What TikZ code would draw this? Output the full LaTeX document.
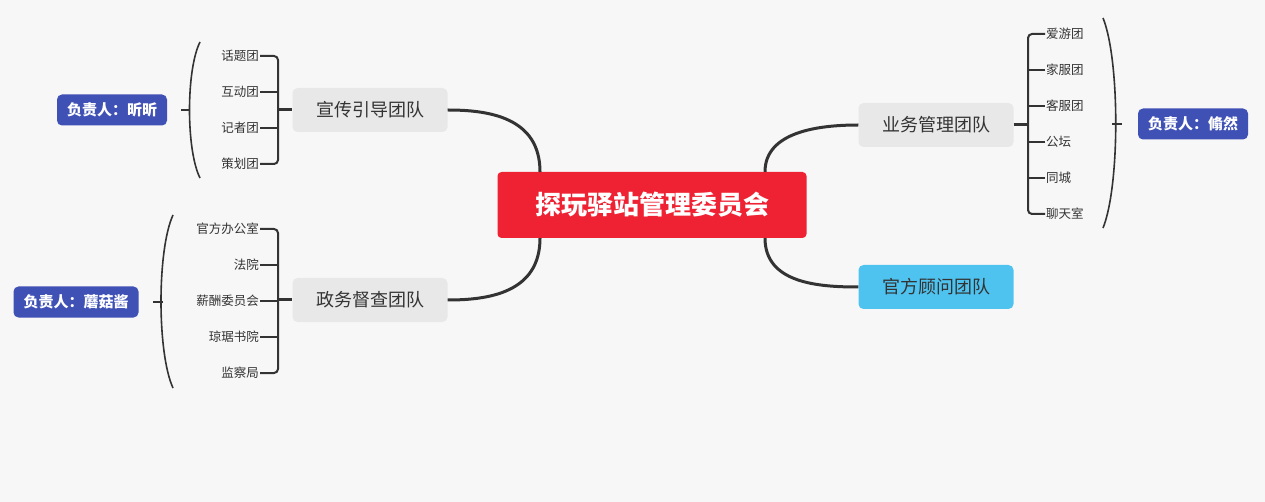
\documentclass[tikz,border=0pt]{standalone}
\usepackage{fontspec}
\setmainfont{Noto Sans CJK SC}
\definecolor{bgcol}{HTML}{F7F7F7}
\definecolor{rootred}{HTML}{EE2233}
\definecolor{teamgray}{HTML}{E8E8E8}
\definecolor{teamblue}{HTML}{4FC3F0}
\definecolor{leadblue}{HTML}{3F51B5}
\definecolor{linecol}{HTML}{333333}
\tikzset{
  root/.style={fill=rootred,rounded corners=4pt,text=white,font=\fontsize{26}{28}\selectfont\bfseries,minimum width=309pt,minimum height=66pt},
  team/.style={fill=teamgray,rounded corners=5pt,text=linecol,font=\fontsize{18}{20}\selectfont,minimum width=155pt,minimum height=44pt},
  leader/.style={fill=leadblue,rounded corners=5pt,text=white,font=\fontsize{15}{17}\selectfont\bfseries,minimum height=31pt,inner xsep=10pt},
  item/.style={text=linecol,font=\fontsize{12.5}{14}\selectfont,inner sep=1pt},
  link/.style={line width=3pt,draw=linecol},
  brace/.style={line width=2pt,draw=linecol,rounded corners=4pt},
  paren/.style={line width=1.6pt,draw=linecol}
}
\begin{document}
\begin{tikzpicture}[x=1pt,y=-1pt]
\fill[bgcol] (0,0) rectangle (1265,502);
\useasboundingbox (0,0) rectangle (1265,502);
% centre and teams
\node[root] (hub) at (652,205) {探玩驿站管理委员会};
\node[team] (xc) at (370,110) {宣传引导团队};
\node[team] (zw) at (370,300) {政务督查团队};
\node[team] (yw) at (936,125) {业务管理团队};
\node[team,fill=teamblue] (gf) at (936,287) {官方顾问团队};
\draw[link] ([xshift=-112pt]hub.north) .. controls +(0,-55) and +(40,0) .. (xc.east);
\draw[link] ([xshift=-112pt]hub.south) .. controls +(0,55) and +(40,0) .. (zw.east);
\draw[link] ([xshift=113pt]hub.north) .. controls +(0,-40) and +(-40,0) .. (yw.west);
\draw[link] ([xshift=113pt]hub.south) .. controls +(0,45) and +(-40,0) .. (gf.west);
% left top group
\foreach \t [count=\i] in {话题团,互动团,记者团,策划团}
  \node[item,anchor=east] (xc\i) at (260,20+36*\i) {\t};
\draw[brace] (xc1.east) -- (278,56) -- (278,164) -- (xc4.east);
\foreach \i in {2,3} \draw[line width=2pt,linecol] (xc\i.east) -- (278,\i*36+20);
\draw[link] (278,110) -- (xc.west);
\coordinate (pxc) at (190,110);
\draw[paren] (200,42) .. controls (186,70) and (186,150) .. (200,178);
\draw[line width=1.6pt,linecol] (pxc) -- (181,110);
\node[leader] (lxc) at (112,110) {负责人：昕昕};
% left bottom group
\foreach \t [count=\i] in {官方办公室,法院,薪酬委员会,琼琚书院,监察局}
  \node[item,anchor=east] (zw\i) at (260,193+36*\i) {\t};
\draw[brace] (zw1.east) -- (278,229) -- (278,373) -- (zw5.east);
\foreach \i in {2,3,4} \draw[line width=2pt,linecol] (zw\i.east) -- (278,\i*36+193);
\draw[link] (278,300) -- (zw.west);
\coordinate (pzw) at (163,302);
\draw[paren] (173,215) .. controls (157,250) and (157,353) .. (173,388);
\draw[line width=1.6pt,linecol] (pzw) -- (153,302);
\node[leader] (lzw) at (76,302) {负责人：蘑菇酱};
% right group
\foreach \t [count=\i] in {爱游团,家服团,客服团,公坛,同城,聊天室}
  \node[item,anchor=west] (yw\i) at (1045,-2+36*\i) {\t};
\draw[brace] (yw1.west) -- (1028,34) -- (1028,214) -- (yw6.west);
\foreach \i in {2,3,4,5} \draw[line width=2pt,linecol] (yw\i.west) -- (1028,\i*36-2);
\draw[link] (yw.east) -- (1028,125);
\coordinate (pyw) at (1112,124);
\draw[paren] (1103,18) .. controls (1120,60) and (1120,186) .. (1103,228);
\draw[line width=1.6pt,linecol] (pyw) -- (1122,124);
\node[leader] (lyw) at (1193,124) {负责人：翛然};
\end{tikzpicture}
\end{document}
